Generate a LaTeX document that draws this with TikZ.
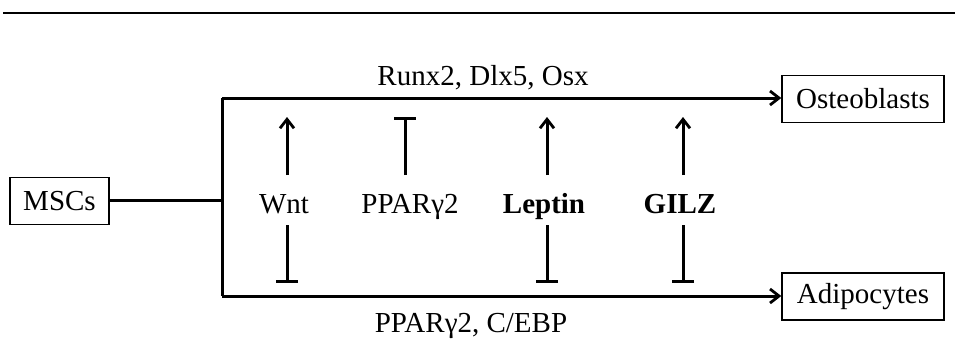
\documentclass[tikz,border=0pt]{standalone}
\usepackage{fontspec}
\setmainfont{Liberation Serif}
\usetikzlibrary{arrows.meta}
\begin{document}
\begin{tikzpicture}[x=1pt,y=-1pt,
  cellbox/.style={draw,line width=1.4pt,inner sep=0pt,minimum height=47pt,font=\fontsize{29}{31}\selectfont,anchor=center},
  lbl/.style={inner sep=0pt,anchor=base,font=\fontsize{29}{31}\selectfont},
  blbl/.style={lbl,font=\fontsize{29}{31}\selectfont\bfseries},
  conn/.style={line width=3pt},
  act/.style={conn,-{Straight Barb[length=9pt,width=14pt,line width=2.8pt]}},
  inh/.style={conn,-{Bar[width=22pt,line width=3pt]}}]
\useasboundingbox (0,0) rectangle (955,338);
\draw[line width=2.4pt] (3,13) -- (955,13);
% cell boxes
\node[cellbox,minimum width=99pt] (msc) at (59.5,201) {MSCs};
\node[cellbox,minimum width=162pt] (ost) at (863,99) {Osteoblasts};
\node[cellbox,minimum width=162pt] (adi) at (863,296.5) {Adipocytes};
\coordinate (j) at (222,200);
\coordinate (jt) at (222,98);
\coordinate (jb) at (222,296);
\draw[conn] (msc.east |- j) -- (j);
\draw[conn] (jt) -- (jb);
\draw[act] (jt) -- (ost.west |- jt);
\draw[act] (jb) -- (adi.west |- jb);
% pathway labels
\node[lbl] (runx) at (483,85) {Runx2, Dlx5, Osx};
\node[lbl] (ppc) at (471,332) {PPARγ2, C/EBP};
% regulators
\node[lbl] (wnt) at (284,213) {Wnt};
\node[lbl] (ppar) at (410,213) {PPARγ2};
\node[blbl] (lep) at (544,213) {Leptin};
\node[blbl] (gilz) at (680,213) {GILZ};
\coordinate (wt1) at (287,175); \coordinate (wt2) at (287,117);
\coordinate (wb1) at (287,225); \coordinate (wb2) at (287,283);
\coordinate (pt1) at (405,175); \coordinate (pt2) at (405,117);
\coordinate (lt1) at (547,175); \coordinate (lt2) at (547,117);
\coordinate (lb1) at (547,225); \coordinate (lb2) at (547,283);
\coordinate (gt1) at (683,175); \coordinate (gt2) at (683,117);
\coordinate (gb1) at (683,225); \coordinate (gb2) at (683,283);
\draw[act] (wt1) -- (wt2);
\draw[inh] (wb1) -- (wb2);
\draw[inh] (pt1) -- (pt2);
\draw[act] (lt1) -- (lt2);
\draw[inh] (lb1) -- (lb2);
\draw[act] (gt1) -- (gt2);
\draw[inh] (gb1) -- (gb2);
\end{tikzpicture}
\end{document}
